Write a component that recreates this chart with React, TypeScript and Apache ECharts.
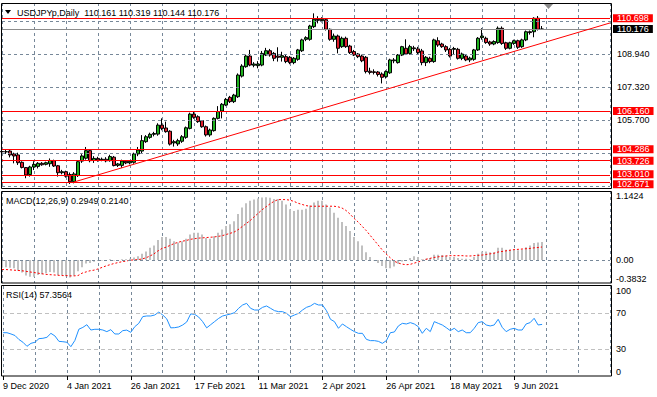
import React, { useEffect, useRef } from 'react';
import * as echarts from 'echarts';

const FONT = '"Liberation Sans", Arial, sans-serif';

// [open, close, low, high]
const candles: number[][] = [
  [104.18, 104.16, 104.01, 104.38], [104.16, 104.17, 104.06, 104.28], [104.20, 104.01, 103.89, 104.28],
  [104.06, 103.96, 103.60, 104.12], [104.01, 103.63, 103.52, 104.12], [103.65, 103.40, 103.35, 103.70],
  [103.39, 103.03, 102.87, 103.42], [103.05, 103.42, 102.95, 103.48], [103.42, 103.55, 103.27, 103.70],
  [103.45, 103.60, 103.35, 103.66], [103.60, 103.53, 103.48, 103.66], [103.55, 103.63, 103.50, 103.68],
  [103.58, 103.74, 103.43, 103.84], [103.73, 103.47, 103.42, 103.78], [103.48, 103.14, 102.95, 103.52],
  [103.14, 103.19, 103.06, 103.28], [103.19, 102.97, 102.90, 103.24], [103.05, 102.70, 102.59, 103.15],
  [102.70, 103.08, 102.62, 103.17], [103.00, 103.68, 102.93, 103.75], [103.71, 103.96, 103.62, 104.05],
  [103.85, 104.22, 103.78, 104.40], [104.22, 103.73, 103.65, 104.28], [103.74, 103.84, 103.62, 103.95],
  [103.84, 103.76, 103.68, 103.92], [103.77, 103.80, 103.70, 103.88], [103.80, 103.72, 103.65, 103.90],
  [103.73, 103.93, 103.68, 104.02], [103.90, 103.49, 103.45, 103.96], [103.50, 103.57, 103.42, 103.62],
  [103.50, 103.71, 103.38, 103.78], [103.70, 103.62, 103.56, 103.76], [103.62, 103.70, 103.55, 103.76],
  [103.65, 104.06, 103.58, 104.12], [104.06, 104.25, 103.95, 104.40], [104.20, 104.71, 104.10, 104.98],
  [104.66, 104.90, 104.60, 104.98], [104.87, 105.02, 104.80, 105.10], [105.02, 105.06, 104.92, 105.14],
  [105.03, 105.47, 104.95, 105.56], [105.47, 105.31, 105.22, 105.80], [105.33, 105.15, 105.10, 105.64],
  [105.17, 104.54, 104.47, 105.22], [104.60, 104.66, 104.42, 104.75], [104.55, 104.71, 104.45, 104.80],
  [104.68, 104.90, 104.60, 104.98], [104.87, 105.34, 104.80, 105.40], [105.31, 106.01, 105.26, 106.08],
  [106.01, 105.85, 105.78, 106.13], [105.88, 105.64, 105.58, 105.95], [105.69, 105.39, 105.34, 105.72],
  [105.39, 104.99, 104.91, 105.45], [104.99, 105.23, 104.90, 105.30], [105.20, 105.80, 105.15, 105.85],
  [105.80, 106.13, 105.75, 106.40], [106.16, 106.49, 105.80, 106.55], [106.45, 106.73, 106.40, 106.80],
  [106.83, 106.62, 106.55, 106.90], [106.62, 106.94, 106.55, 107.00], [106.86, 107.92, 106.80, 108.00],
  [107.87, 108.36, 107.80, 108.45], [108.33, 108.85, 108.28, 108.92], [108.85, 108.41, 108.35, 109.15],
  [108.40, 108.46, 108.30, 108.55], [108.38, 108.46, 108.25, 108.60], [108.41, 108.98, 108.35, 109.10],
  [108.90, 109.11, 108.85, 109.25], [109.11, 108.90, 108.82, 109.20], [108.98, 108.74, 108.60, 109.05],
  [108.85, 108.79, 108.58, 109.28], [108.79, 108.87, 108.58, 109.06], [108.82, 108.58, 108.50, 108.90],
  [108.79, 108.53, 108.45, 108.85], [108.53, 108.74, 108.45, 108.80], [108.69, 109.15, 108.62, 109.20],
  [109.11, 109.64, 109.05, 109.70], [109.67, 109.75, 109.58, 109.82], [109.67, 110.32, 109.60, 110.38],
  [110.29, 110.65, 110.22, 110.94], [110.65, 110.60, 110.45, 110.80], [110.58, 110.65, 110.50, 110.75],
  [110.63, 110.16, 110.10, 110.70], [110.16, 109.67, 109.60, 110.20], [109.67, 109.83, 109.55, 109.95],
  [109.83, 109.23, 108.98, 109.90], [109.31, 109.72, 109.25, 109.80], [109.72, 109.31, 109.25, 109.80],
  [109.34, 109.02, 108.95, 109.40], [109.07, 108.90, 108.85, 109.15], [108.95, 108.82, 108.75, 109.00],
  [108.85, 108.62, 108.55, 108.92], [108.79, 108.09, 108.00, 108.85], [108.11, 108.05, 107.95, 108.28],
  [108.08, 108.05, 107.95, 108.20], [108.07, 107.95, 107.85, 108.12], [107.97, 107.81, 107.51, 108.05],
  [107.84, 108.09, 107.75, 108.15], [108.03, 108.66, 107.98, 108.72], [108.62, 108.66, 108.50, 108.75],
  [108.53, 108.90, 108.48, 108.95], [108.90, 109.31, 108.85, 109.35], [109.23, 108.95, 108.90, 109.67],
  [108.98, 109.31, 108.92, 109.40], [109.25, 109.21, 109.10, 109.35], [109.20, 109.02, 108.95, 109.30],
  [109.10, 108.53, 108.40, 109.20], [108.53, 108.79, 108.36, 108.85], [108.74, 108.58, 108.50, 108.82],
  [108.58, 109.64, 108.52, 109.70], [109.60, 109.39, 109.30, 109.77], [109.44, 109.31, 109.25, 109.50],
  [109.31, 109.15, 109.05, 109.38], [109.18, 108.85, 108.78, 109.25], [109.18, 109.22, 108.90, 109.30],
  [109.18, 108.74, 108.68, 109.25], [108.74, 108.95, 108.65, 109.02], [108.85, 108.66, 108.60, 108.92],
  [108.66, 108.75, 108.55, 108.82], [108.69, 109.15, 108.62, 109.20], [109.15, 109.72, 109.10, 109.78],
  [109.75, 109.83, 109.65, 110.21], [109.72, 109.51, 109.45, 109.80], [109.54, 109.44, 109.35, 109.60],
  [109.44, 109.56, 109.38, 109.62], [109.51, 110.21, 109.45, 110.30], [110.21, 109.47, 109.40, 110.30],
  [109.50, 109.23, 109.15, 109.55], [109.23, 109.50, 109.18, 109.55], [109.47, 109.60, 109.40, 109.65],
  [109.60, 109.28, 109.20, 109.65], [109.31, 109.64, 109.25, 109.70], [109.64, 110.04, 109.58, 110.10],
  [110.04, 110.00, 109.90, 110.10], [110.04, 110.70, 109.77, 110.75], [110.70, 110.16, 110.10, 110.81],
  [110.161, 110.176, 110.144, 110.319],
];

const macdMain: number[] = [
  -0.13, -0.12, -0.13, -0.14, -0.18, -0.21, -0.26, -0.28, -0.28, -0.25, -0.24, -0.22, -0.20, -0.21, -0.25, -0.25,
  -0.27, -0.29, -0.26, -0.19, -0.12, -0.06, -0.05, -0.03, -0.02, -0.01, -0.01, 0.01, -0.01, -0.01, 0.01, 0.01,
  0.02, 0.04, 0.06,
  0.10, 0.14, 0.20, 0.24, 0.33, 0.38, 0.38, 0.35, 0.31, 0.29, 0.31, 0.35, 0.42, 0.45, 0.45, 0.42, 0.365, 0.35,
  0.39, 0.45, 0.505, 0.56, 0.59, 0.64, 0.76, 0.87, 0.94, 0.98, 1.00, 1.02, 1.035, 1.04, 1.03, 1.01,
  1.01, 0.98, 0.92, 0.84, 0.81, 0.83, 0.83, 0.85, 0.90, 0.95, 0.98, 0.98, 0.92, 0.87, 0.78, 0.70, 0.63, 0.56,
  0.48, 0.38, 0.31, 0.24, 0.125, 0.046, -0.01, -0.05, -0.10, -0.14, -0.14, -0.11, -0.065, -0.026, -0.01, 0.03,
  0.06, 0.05, 0.01, 0.02, 0.03, 0.085, 0.085, 0.08, 0.07, 0.05, 0.05, 0.03, 0.02, 0.02, 0.01, 0.05, 0.10, 0.14,
  0.14, 0.125, 0.125, 0.20, 0.20, 0.17, 0.17, 0.17, 0.16, 0.17, 0.21, 0.24, 0.28, 0.29, 0.2949,
];

const macdSignal: number[] = [
  -0.16, -0.16, -0.165, -0.17, -0.175, -0.18, -0.19, -0.20, -0.21, -0.22, -0.23, -0.24, -0.245, -0.25, -0.255,
  -0.26, -0.26, -0.265, -0.265, -0.26,
  -0.22, -0.20, -0.18, -0.17, -0.15, -0.125, -0.10, -0.08, -0.06, -0.045, -0.03, -0.02, -0.005, 0.0, 0.005,
  0.015, 0.035, 0.065, 0.10, 0.15, 0.19,
  0.21, 0.24, 0.27, 0.29, 0.31, 0.32, 0.34, 0.35, 0.36, 0.365, 0.37, 0.375, 0.38, 0.39, 0.40, 0.42, 0.44, 0.46,
  0.50, 0.55, 0.60, 0.65, 0.71, 0.77, 0.83, 0.88, 0.93, 0.97,
  1.0, 1.0, 1.0, 0.99, 0.97, 0.94, 0.92, 0.90, 0.89, 0.89, 0.89, 0.89, 0.89, 0.89, 0.89, 0.88, 0.86, 0.82,
  0.76, 0.69, 0.63, 0.56, 0.49, 0.41, 0.33, 0.25, 0.17, 0.10, 0.04, -0.02, -0.05, -0.07, -0.08, -0.075,
  -0.055, -0.035, -0.015, 0.01, 0.025, 0.04, 0.05, 0.06, 0.065, 0.07, 0.07, 0.07, 0.07, 0.065, 0.065, 0.07,
  0.075, 0.08, 0.09, 0.10, 0.11, 0.13, 0.14, 0.15, 0.16, 0.17, 0.175, 0.18, 0.185, 0.19, 0.20, 0.205, 0.214,
];

const rsi: number[] = [
  48.1, 48.1, 46.7, 45.0, 40.5, 37.5, 33.0, 36.3, 37.5, 41.5, 41.9, 43.0, 47.4, 44.5, 38.5, 38.1, 37.5, 32.6,
  39.5, 52.0, 54.0, 57.0, 51.1, 51.9, 51.9, 51.1, 49.3, 51.5, 46.7, 46.7, 50.4, 51.0, 48.5, 54.8, 58.5, 66.0,
  66.7, 66.7, 67.8, 71.0, 67.8, 63.5, 53.5, 53.7, 54.5, 56.7, 60.0, 69.0, 68.5, 65.5, 60.4, 53.5, 57.0, 60.5,
  64.0,
  66.7, 67.8, 68.9, 70.4, 75.2, 78.9, 80.7, 75.2, 73.3, 73.3, 76.3, 77.8, 75.2, 72.6,
  71.5, 71.5, 69.6, 65.9, 67.8, 69.6, 73.3, 76.3, 77.8, 80.7, 78.9, 78.9, 72.6, 63.0, 60.4, 53.0, 57.8, 54.8,
  51.9, 49.3, 47.4, 47.4, 40.7, 39.3, 39.3, 38.5, 36.3, 39.3, 48.1, 48.9, 55.6, 58.5, 57.8, 59.3,
  57.8, 54.8, 47.4, 53.0, 49.3, 60.4, 58.5, 56.7, 53.7, 50.4, 53.0, 49.3, 51.1, 48.1, 48.1, 53.0, 59.3, 60.4,
  56.7, 55.6, 56.7, 63.0, 54.1, 49.3, 51.9, 53.0, 51.1, 51.1, 57.8, 59.3, 64.1, 56.7, 57.36,
];

const firstDay = '2020-12-09';
const holidays = ['2020-12-25', '2021-01-01'];
const emptySlots = 17;
const gridLevels = [110.56, 108.94, 107.32, 105.7, 104.08, 102.46];
const labelledGridLevels = [108.94, 107.32, 105.7];
const redLevels = [110.698, 106.16, 104.286, 103.726, 103.01, 102.671];
const redLabelShift = [0, 0, 0, 0, -1, 2];
const bidPrice = 110.176;
const trendLine = [[18, 102.685], [152, 110.47]];
const priceRange = [102.343, 111.447];
const macdRange = [-0.3832, 1.1424];
const rsiLevels = [30, 70];
const rsiTickLabels = [0, 30, 70, 100];
const headerText = 'USDJPYp,Daily  110.161 110.319 110.144 110.176';
const macdText = 'MACD(12,26,9) 0.2949 0.2140';
const rsiText = 'RSI(14) 57.3564';

const MONTHS = ['Jan', 'Feb', 'Mar', 'Apr', 'May', 'Jun', 'Jul', 'Aug', 'Sep', 'Oct', 'Nov', 'Dec'];

function tradingDays(start: string, count: number, skip: string[]): string[] {
  const out: string[] = [];
  const d = new Date(start + 'T00:00:00Z');
  while (out.length < count) {
    const iso = d.toISOString().slice(0, 10);
    const wd = d.getUTCDay();
    if (wd !== 0 && wd !== 6 && !skip.includes(iso)) {
      out.push(`${d.getUTCDate()} ${MONTHS[d.getUTCMonth()]} ${d.getUTCFullYear()}`);
    }
    d.setUTCDate(d.getUTCDate() + 1);
  }
  return out;
}

export default function App() {
  const ref = useRef<HTMLDivElement>(null);

  useEffect(() => {
    document.body.style.margin = '0';
    if (!ref.current) return;
    const chart = echarts.init(ref.current, undefined, { renderer: 'svg' });

    const dates = tradingDays(firstDay, candles.length, holidays);
    const cats = [...dates, ...Array.from({ length: emptySlots }, (_, i) => `pad${i}`)];
    const nDates = dates.length;
    const labelShown = (i: number) => i % 16 === 0 && i < nDates;

    const splitLine = { show: true, interval: 7, lineStyle: { color: '#778899', type: [3, 3], width: 1 } };
    const xAxis = [0, 1, 2].map((gi) => ({
      type: 'category',
      gridIndex: gi,
      data: cats,
      boundaryGap: false,
      axisLine: { show: false },
      axisTick: gi === 2
        ? { show: true, interval: labelShown, length: 4, lineStyle: { color: '#000', width: 1 } }
        : { show: false },
      axisLabel: gi === 2
        ? { show: true, interval: labelShown, align: 'left', margin: 5, fontSize: 9, fontFamily: FONT, color: '#000' }
        : { show: false },
      splitLine,
    }));

    const lblBase = { fontSize: 9, fontFamily: FONT, lineHeight: 8 };

    const markData: any[] = [
      ...gridLevels.map((v) => ({
        yAxis: v,
        lineStyle: { color: '#778899', type: [3, 3], width: 1 },
        label: labelledGridLevels.includes(v)
          ? { show: true, position: 'end', distance: 7, formatter: v.toFixed(3), color: '#000', ...lblBase }
          : { show: false },
      })),
      ...redLevels.map((v, i) => ({
        yAxis: v,
        lineStyle: { color: '#FF0000', type: 'solid', width: 1 },
        label: {
          show: true, position: 'end', distance: 3, formatter: v.toFixed(3), color: '#fff',
          backgroundColor: '#FF0000', padding: [0, 4, 0, 4], offset: [0, redLabelShift[i]], ...lblBase,
        },
      })),
      {
        yAxis: bidPrice,
        lineStyle: { color: '#8c8c8c', type: 'solid', width: 1 },
        label: {
          show: true, position: 'end', distance: 3, formatter: bidPrice.toFixed(3), color: '#fff',
          backgroundColor: '#000', padding: [0, 4, 0, 4], ...lblBase,
        },
      },
      [
        { coord: trendLine[0], lineStyle: { color: '#FF0000', type: 'solid', width: 1 }, label: { show: false } },
        { coord: trendLine[1] },
      ],
    ];

    const axisLabelBase = { fontSize: 9, fontFamily: FONT, color: '#000', margin: 6 };

    chart.setOption({
      animation: false,
      backgroundColor: '#fff',
      grid: [
        { left: 2, right: 47, top: 3, height: 186 },
        { left: 2, right: 47, top: 191, height: 92 },
        { left: 2, right: 47, top: 286, height: 90 },
      ],
      xAxis,
      yAxis: [
        {
          gridIndex: 0, type: 'value', position: 'right', min: priceRange[0], max: priceRange[1],
          axisLabel: { show: false }, axisLine: { show: false }, axisTick: { show: false }, splitLine: { show: false },
        },
        {
          gridIndex: 1, type: 'value', position: 'right', min: macdRange[0], max: macdRange[1],
          interval: -macdRange[0],
          axisLabel: {
            ...axisLabelBase,
            verticalAlignMinLabel: 'bottom',
            verticalAlignMaxLabel: 'top',
            formatter: (v: number) => {
              if (Math.abs(v) < 1e-9) return '0.00';
              if (Math.abs(v - macdRange[0]) < 1e-6) return macdRange[0].toFixed(4);
              if (Math.abs(v - macdRange[1]) < 1e-6) return macdRange[1].toFixed(4);
              return '';
            },
          },
          axisLine: { show: false }, axisTick: { show: false }, splitLine: { show: false },
        },
        {
          gridIndex: 2, type: 'value', position: 'right', min: 0, max: 100, interval: 10,
          axisLabel: {
            ...axisLabelBase,
            verticalAlignMinLabel: 'bottom',
            verticalAlignMaxLabel: 'top',
            formatter: (v: number) => (rsiTickLabels.includes(Math.round(v)) ? String(Math.round(v)) : ''),
          },
          axisLine: { show: false }, axisTick: { show: false }, splitLine: { show: false },
        },
      ],
      series: [
        {
          type: 'candlestick',
          xAxisIndex: 0,
          yAxisIndex: 0,
          data: candles,
          barWidth: 3,
          itemStyle: {
            color: '#1FB21F', color0: '#E01E2E', borderColor: '#000', borderColor0: '#000', borderWidth: 1,
          },
          markLine: { silent: true, symbol: ['none', 'none'], data: markData },
          z: 3,
        },
        {
          type: 'bar',
          xAxisIndex: 1,
          yAxisIndex: 1,
          data: macdMain,
          barWidth: 2,
          itemStyle: { color: '#C0C0C0' },
          markLine: {
            silent: true, symbol: ['none', 'none'],
            data: [{ yAxis: 0 }],
            lineStyle: { color: '#778899', type: [3, 3], width: 1 },
            label: { show: false },
          },
        },
        {
          type: 'line',
          xAxisIndex: 1,
          yAxisIndex: 1,
          data: macdSignal,
          symbol: 'none',
          lineStyle: { color: '#FF0000', width: 1, type: [2, 2] },
        },
        {
          type: 'line',
          xAxisIndex: 2,
          yAxisIndex: 2,
          data: rsi,
          symbol: 'none',
          lineStyle: { color: '#1E90FF', width: 1 },
          markLine: {
            silent: true, symbol: ['none', 'none'],
            data: rsiLevels.map((v) => ({ yAxis: v })),
            lineStyle: { color: '#C0C0C0', type: [4, 3], width: 1 },
            label: { show: false },
          },
        },
      ],
      graphic: [
        { type: 'rect', z: 100, silent: true, shape: { x: 1.5, y: 3.5, width: 610, height: 185 }, style: { fill: 'none', stroke: '#000', lineWidth: 1 } },
        { type: 'rect', z: 100, silent: true, shape: { x: 1.5, y: 191.5, width: 610, height: 91.5 }, style: { fill: 'none', stroke: '#000', lineWidth: 1 } },
        { type: 'rect', z: 100, silent: true, shape: { x: 1.5, y: 285.5, width: 610, height: 90.5 }, style: { fill: 'none', stroke: '#000', lineWidth: 1 } },
        { type: 'polygon', z: 100, silent: true, shape: { points: [[5, 10], [11, 10], [8, 14]] }, style: { fill: '#000' } },
        { type: 'polygon', z: 100, silent: true, shape: { points: [[544, 4], [553, 4], [548.5, 9]] }, style: { fill: '#8a8a8a' } },
        { type: 'text', z: 100, silent: true, x: 17, y: 12.5, style: { text: headerText, fontSize: 9, fontFamily: FONT, fill: '#000', verticalAlign: 'middle' } },
        { type: 'text', z: 100, silent: true, x: 6, y: 201, style: { text: macdText, fontSize: 9, fontFamily: FONT, fill: '#000', verticalAlign: 'middle' } },
        { type: 'text', z: 100, silent: true, x: 6, y: 295, style: { text: rsiText, fontSize: 9, fontFamily: FONT, fill: '#000', verticalAlign: 'middle' } },
      ],
    });

    return () => chart.dispose();
  }, []);

  return (
    <div
      ref={ref}
      style={{ position: 'absolute', left: 0, top: 0, width: 657, height: 397, background: '#fff' }}
    />
  );
}
